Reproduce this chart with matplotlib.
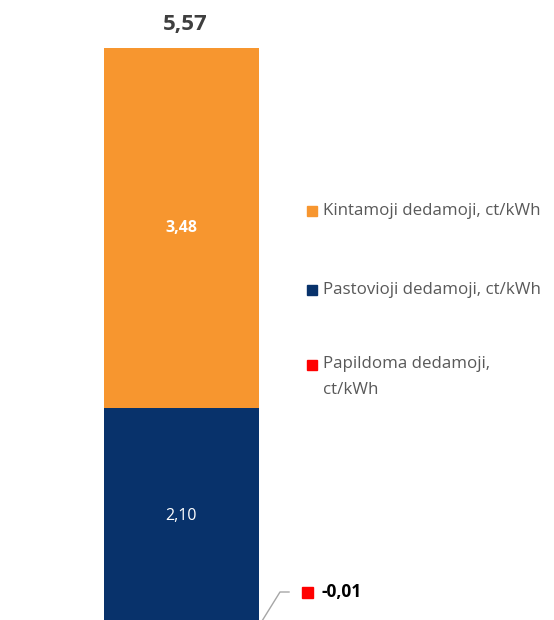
import matplotlib
matplotlib.use("Agg")
import matplotlib.pyplot as plt
from matplotlib.patches import Rectangle

plt.rcParams['font.family'] = ['Open Sans', 'DejaVu Sans']

series = ["Kintamoji dedamoji, ct/kWh", "Pastovioji dedamoji, ct/kWh", "Papildoma dedamoji,\nct/kWh"]
values = [3.48, 2.10, -0.01]
labels = ["3,48", "2,10", "-0,01"]
total_label = "5,57"
colors = ["#F7962F", "#08326B", "#FF0000"]

W, H = 554, 620
fig = plt.figure(figsize=(W / 100, H / 100), dpi=100)
ax = fig.add_axes([0, 0, 1, 1])
ax.axis('off')

ppu_y = 103.4
ylim_top = 5.58 + 48 / ppu_y
ylim_bot = ylim_top - H / ppu_y
ppu_x = 155
xlim_left = -0.5 - 104 / ppu_x
ax.set_xlim(xlim_left, xlim_left + W / ppu_x)
ax.set_ylim(ylim_bot, ylim_top)

navy_v, orange_v, red_v = values[1], values[0], values[2]
ax.bar(0, navy_v, width=1, bottom=0, color=colors[1])
ax.bar(0, orange_v, width=1, bottom=navy_v, color=colors[0])
ax.bar(0, red_v, width=1, bottom=0, color=colors[2])

ax.text(0, navy_v + orange_v / 2, labels[0], ha='center', va='center',
        color='white', fontsize=11.5, fontweight='bold')
ax.text(0, navy_v / 2, labels[1], ha='center', va='center',
        color='white', fontsize=11.5)
total = navy_v + orange_v
ax.text(0.025, total + 0.23, total_label, ha='center', va='center',
        color='#3F3F3F', fontsize=16, fontweight='bold')


def fx(px):
    return px / W


def fy(py):
    return 1 - py / H


ax.plot([fx(262), fx(280), fx(289)], [fy(621), fy(592), fy(592)],
        transform=ax.transAxes, color='#A6A6A6', lw=1, clip_on=False)
ax.add_patch(Rectangle((fx(302), fy(598)), 11 / W, 11 / H, transform=ax.transAxes,
                       color=colors[2]))
ax.text(fx(321), fy(592), labels[2], transform=ax.transAxes, ha='left', va='center',
        color='black', fontsize=12.5, fontweight='bold')

leg_y = [211, 290, 364.5]
for name, c, y in zip(series, colors, leg_y):
    ax.add_patch(Rectangle((fx(307), fy(y + 5)), 10 / W, 10 / H, transform=ax.transAxes,
                           color=c))
    lines = name.split('\n')
    for i, line in enumerate(lines):
        ax.text(fx(323), fy(y + 25.5 * i), line, transform=ax.transAxes, ha='left',
                va='center', color='#595959', fontsize=12.2)

fig.savefig("out.png", dpi=100)
